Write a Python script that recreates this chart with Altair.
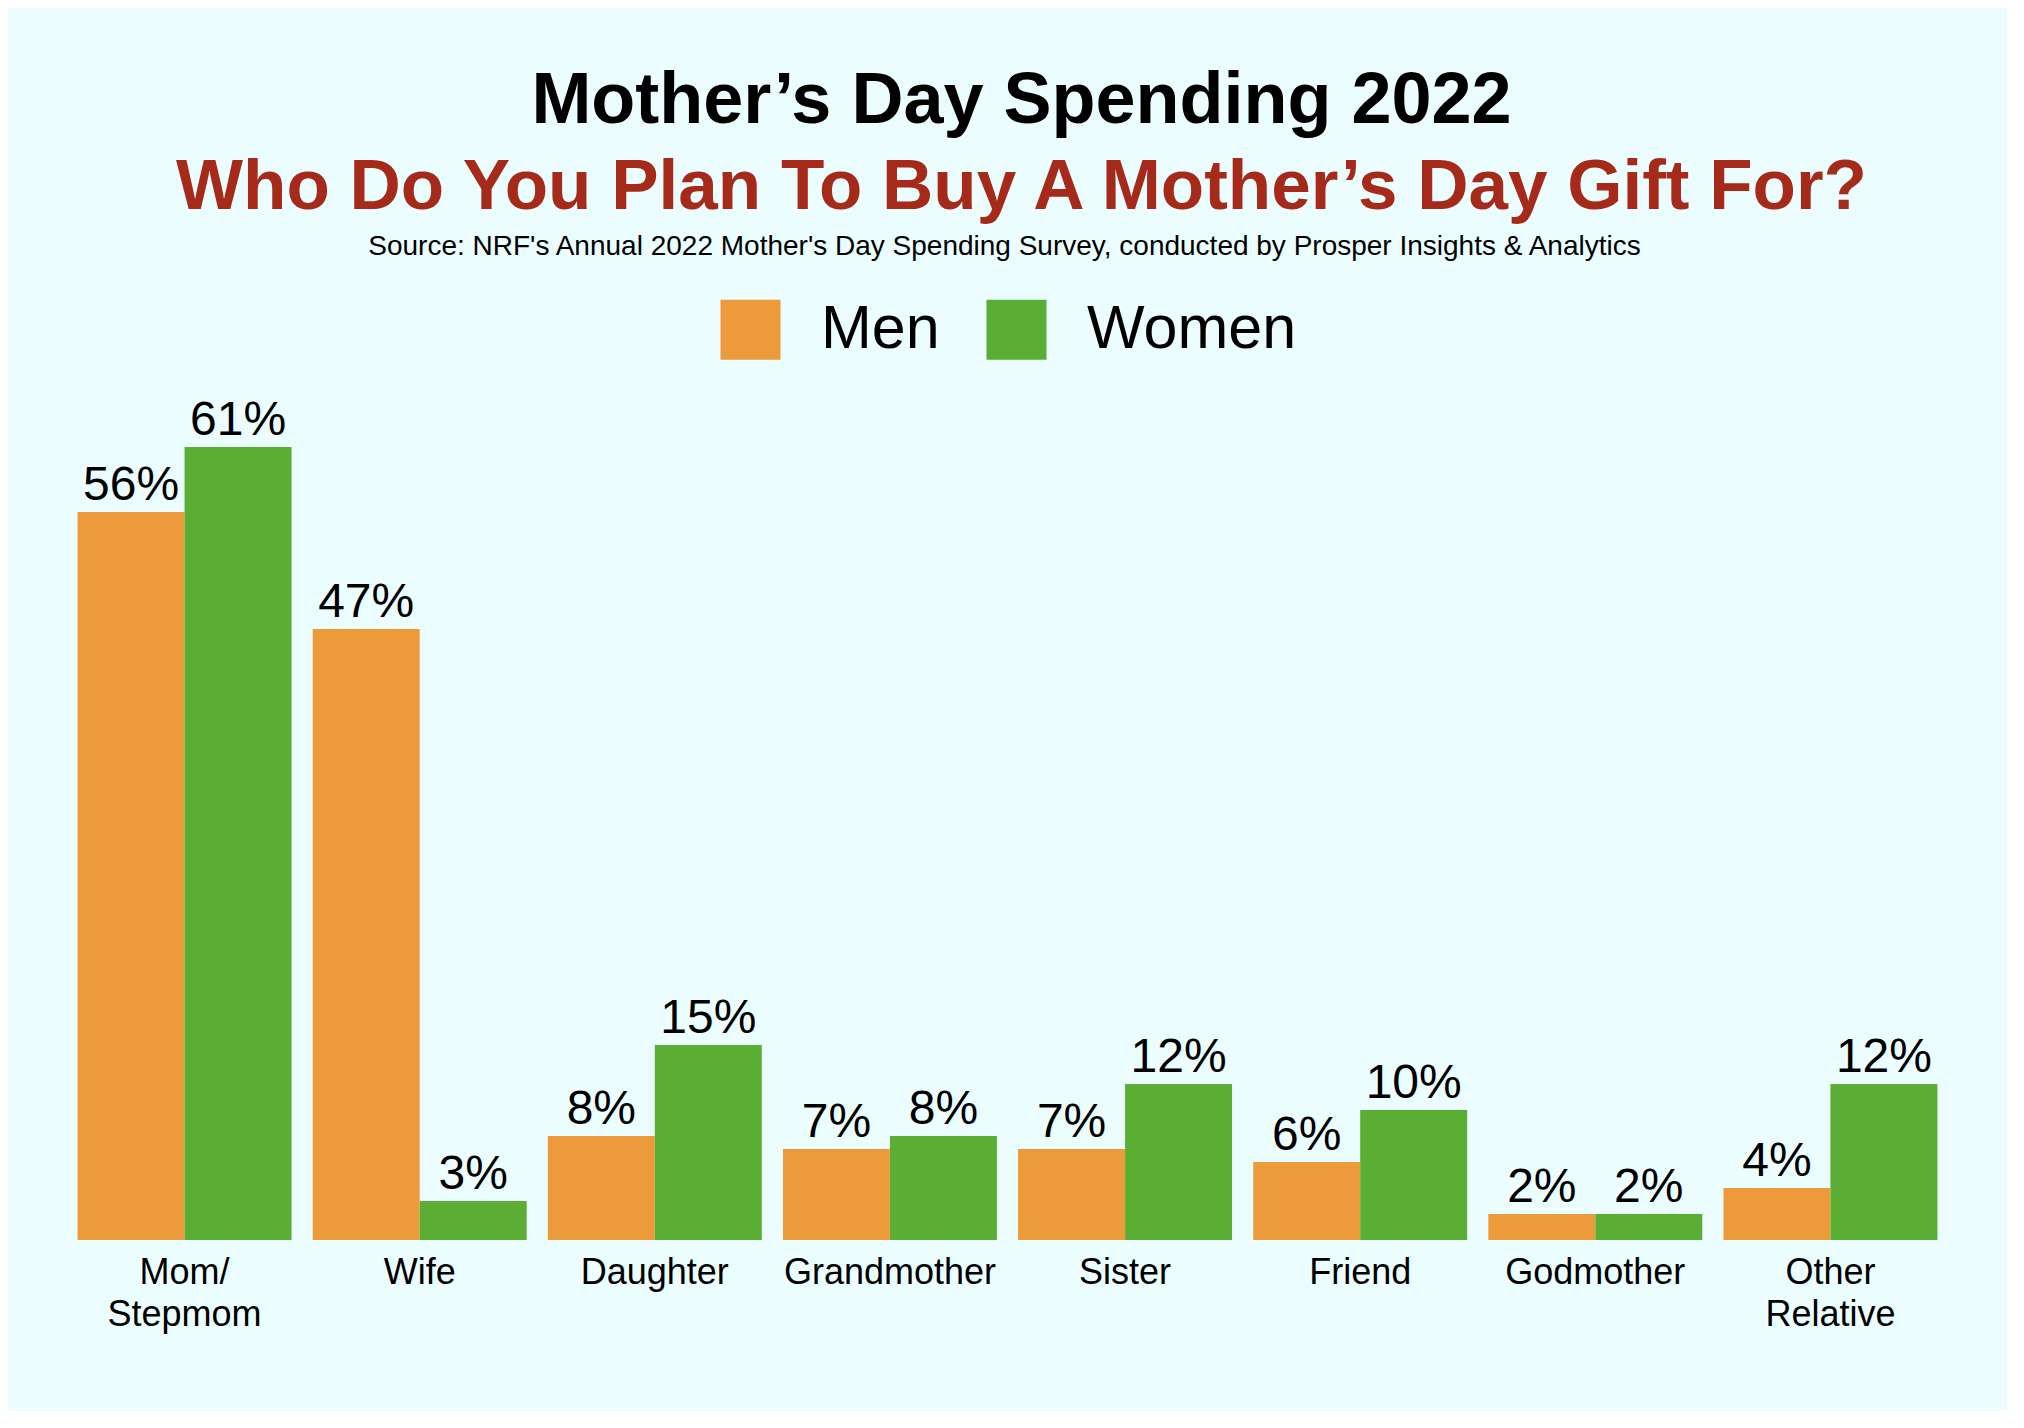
import altair as alt
import pandas as pd

FONT = "Liberation Sans"

categories = ["Mom/ Stepmom", "Wife", "Daughter", "Grandmother", "Sister",
              "Friend", "Godmother", "Other Relative"]
men = [56, 47, 8, 7, 7, 6, 2, 4]
women = [61, 3, 15, 8, 12, 10, 2, 12]
groups = ["Men", "Women"]
colors = ["#EC9A3A", "#5AAE33"]

title_text = "Mother\u2019s Day Spending 2022"
subtitle_text = "Who Do You Plan To Buy A Mother\u2019s Day Gift For?"
source_text = ("Source: NRF's Annual 2022 Mother's Day Spending Survey, "
               "conducted by Prosper Insights & Analytics")

rows = []
for c, m, w in zip(categories, men, women):
    rows.append({"category": c, "group": "Men", "value": m})
    rows.append({"category": c, "group": "Women", "value": w})
df = pd.DataFrame(rows)
df["label"] = df["value"].astype(str) + "%"

W, H = 1881, 793

xscale = alt.Scale(paddingInner=0.09, paddingOuter=0.045)
yenc = alt.Y("value:Q", scale=alt.Scale(domain=[0, 61], nice=False, zero=True), axis=None)
xoff = alt.XOffset("group:N", sort=groups, scale=alt.Scale(paddingInner=0, paddingOuter=0))

bars = alt.Chart(df).mark_bar(strokeWidth=0).encode(
    x=alt.X("category:N", sort=categories, scale=xscale,
            axis=alt.Axis(title=None, orient="bottom", labelAngle=0,
                          labelExpr="split(datum.label, ' ')",
                          labelFontSize=36, labelFont=FONT, labelColor="black",
                          labelPadding=15, labelLineHeight=42, labelBaseline="top",
                          labelLimit=0, ticks=False, domain=False, grid=False)),
    xOffset=xoff,
    y=yenc,
    color=alt.Color("group:N", scale=alt.Scale(domain=groups, range=colors),
                    legend=alt.Legend(orient="none", legendX=653, legendY=-148,
                                      direction="horizontal", title=None,
                                      symbolType="square", symbolSize=3600,
                                      symbolStrokeWidth=0, symbolOpacity=1,
                                      labelFontSize=61, labelFont=FONT,
                                      labelColor="black", labelOffset=40,
                                      labelLimit=0, columnPadding=46, padding=0)),
)

labels = alt.Chart(df).mark_text(dy=-12, baseline="alphabetic", align="center",
                                 fontSize=48, font=FONT, color="black").encode(
    x=alt.X("category:N", sort=categories, scale=xscale,
            axis=alt.Axis(orient="top", title=source_text, labels=False,
                          ticks=False, domain=False, grid=False,
                          titleFontSize=28, titleFont=FONT, titleFontWeight="normal",
                          titleColor="black", titleX=937, titleY=-193,
                          titleBaseline="alphabetic", titleAlign="center",
                          titleLimit=0)),
    xOffset=xoff,
    y=yenc,
    text="label:N",
)

chart = alt.layer(bars, labels).resolve_axis(x="independent").properties(
    width=W, height=H,
    title=alt.TitleParams(text=title_text, subtitle=subtitle_text,
                          fontSize=72, font=FONT, fontWeight="bold", color="black",
                          subtitleFontSize=71, subtitleFont=FONT,
                          subtitleFontWeight="bold", subtitleColor="#A52A1A",
                          anchor="middle", dx=14, subtitlePadding=15, offset=8,
                          limit=0),
    background="#EBFDFF",
    padding={"left": 59, "top": 439, "right": 59, "bottom": 171},
    autosize=alt.AutoSizeParams(type="none"),
).configure_view(stroke=None)

chart.save("out.html", embed_options={"renderer": "svg", "actions": False})
